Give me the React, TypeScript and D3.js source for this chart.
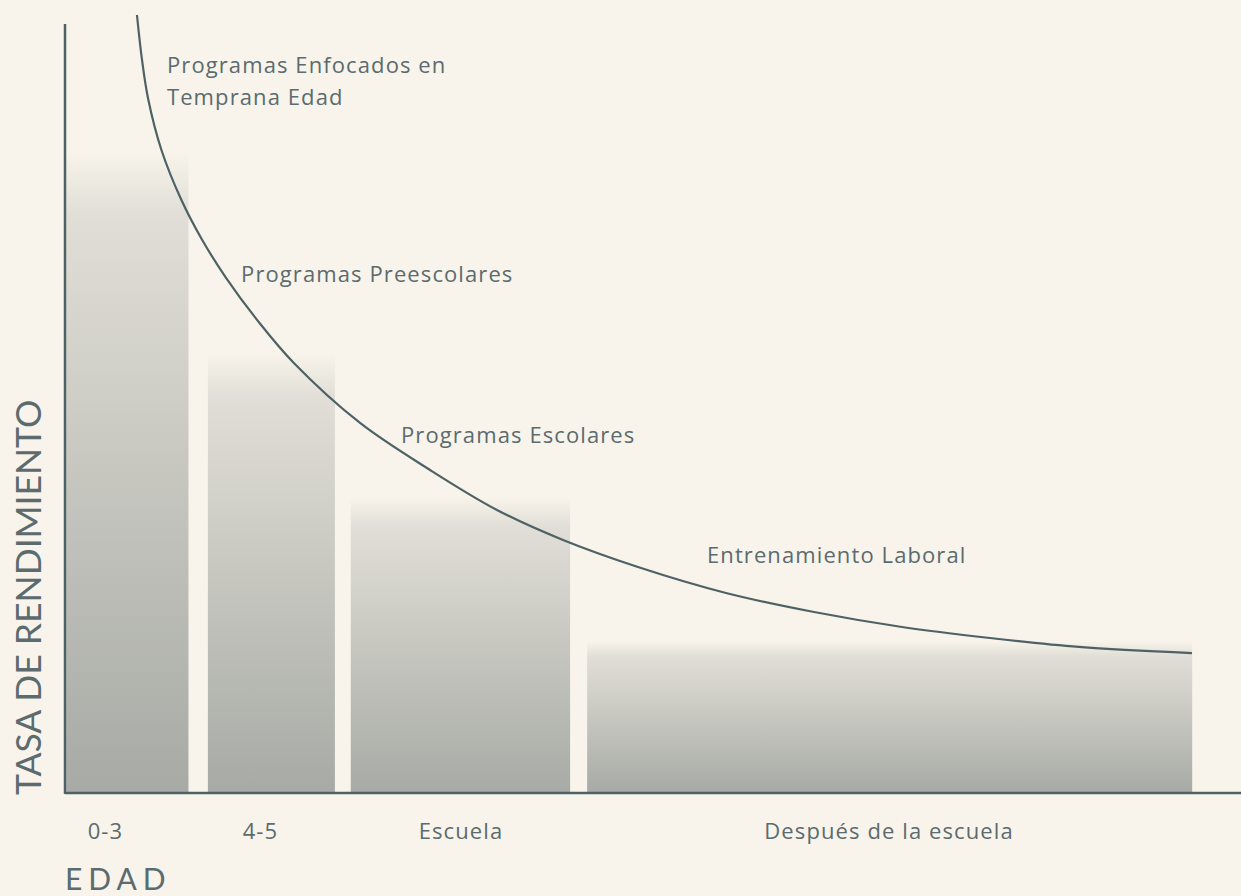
import React, { useRef, useEffect } from "react";
import * as d3 from "d3";

// age groups (bars), in the chart's own x units (0-100 across the axis)
const groups = ["0-3", "4-5", "Escuela", "Después de la escuela"];
const barStart = [0.1, 12.15, 24.3, 44.4];
const barEnd = [10.5, 22.95, 42.95, 95.85];
const barValue = [82.5, 56.5, 38.0, 19.5];
const tickCenter = [3.44, 16.62, 33.67, 70.07];

// return-rate curve
const curveX = [6.12, 6.55, 7.09, 8.2, 9.9, 11.67, 13.65, 16.54, 19.46, 25.09, 31.04, 36.73, 42.35, 48.72, 56.21, 63.69, 71.17, 78.66, 86.22, 95.83];
const curveY = [100, 94.22, 89.07, 82.65, 76.22, 71.08, 66.32, 60.41, 55.27, 47.56, 41.52, 36.38, 32.52, 29.05, 25.71, 23.26, 21.34, 19.92, 18.77, 17.99];

// program labels along the curve
const noteText = [["Programas Enfocados en", "Temprana Edad"], ["Programas Preescolares"], ["Programas Escolares"], ["Entrenamiento Laboral"]];
const noteX = [8.67, 14.97, 28.57, 54.59];
const noteY = [92.5, 65.7, 45.0, 29.6];

const W = 1241;
const H = 896;
const ink = "#4e6266";
const textCol = "#5b6b6e";
const labelFont = "'Open Sans', Lato, sans-serif";
const titleFont = "Lato, 'Open Sans', sans-serif";

const App = () => {
  const ref = useRef<SVGSVGElement>(null);

  useEffect(() => {
    if (!ref.current) return;
    const svg = d3.select(ref.current);
    svg.selectAll("*").remove();

    const x = d3.scaleLinear().domain([0, 100]).range([65, 1241]);
    const y = d3.scaleLinear().domain([0, 100]).range([793, 15]);

    svg.append("rect").attr("width", W).attr("height", H).attr("fill", "#f8f4eb");

    const grad = svg
      .append("defs")
      .append("linearGradient")
      .attr("id", "barFade")
      .attr("x1", 0)
      .attr("y1", 0)
      .attr("x2", 0)
      .attr("y2", 1);
    grad.append("stop").attr("offset", "0%").attr("stop-color", "#a3a6a1").attr("stop-opacity", 0);
    grad.append("stop").attr("offset", "10%").attr("stop-color", "#a3a6a1").attr("stop-opacity", 0.28);
    grad.append("stop").attr("offset", "100%").attr("stop-color", "#a3a6a1").attr("stop-opacity", 0.95);

    svg
      .append("g")
      .selectAll("rect")
      .data(groups)
      .join("rect")
      .attr("x", (_, i) => x(barStart[i]))
      .attr("width", (_, i) => x(barEnd[i]) - x(barStart[i]))
      .attr("y", (_, i) => y(barValue[i]))
      .attr("height", (_, i) => y(0) - y(barValue[i]))
      .attr("fill", "url(#barFade)");

    // axes
    svg.append("line").attr("x1", x(0)).attr("x2", x(0)).attr("y1", 24).attr("y2", y(0) + 1)
      .attr("stroke", ink).attr("stroke-width", 2.5);
    svg.append("line").attr("x1", x(0)).attr("x2", x(100)).attr("y1", y(0)).attr("y2", y(0))
      .attr("stroke", ink).attr("stroke-width", 2.5);

    const pts: [number, number][] = curveX.map((v, i) => [v, curveY[i]]);
    const line = d3
      .line<[number, number]>()
      .x((d) => x(d[0]))
      .y((d) => y(d[1]))
      .curve(d3.curveCatmullRom.alpha(0.5));
    svg.append("path").datum(pts).attr("d", line).attr("fill", "none")
      .attr("stroke", ink).attr("stroke-width", 2.2);

    // notes
    noteText.forEach((lines, i) => {
      const t = svg.append("text")
        .attr("x", x(noteX[i]))
        .attr("y", y(noteY[i]))
        .attr("fill", textCol)
        .attr("font-family", labelFont)
        .attr("font-size", 22)
        .attr("letter-spacing", 1.1);
      lines.forEach((s, j) => {
        t.append("tspan").attr("x", x(noteX[i])).attr("dy", j === 0 ? 0 : 32).text(s);
      });
    });

    // category labels
    svg.append("g")
      .selectAll("text")
      .data(groups)
      .join("text")
      .attr("x", (_, i) => x(tickCenter[i]))
      .attr("y", 839)
      .attr("text-anchor", "middle")
      .attr("fill", textCol)
      .attr("font-family", labelFont)
      .attr("font-size", 22)
      .attr("letter-spacing", 1.1)
      .text((d) => d);

    svg.append("text")
      .attr("x", 65)
      .attr("y", 890)
      .attr("fill", textCol)
      .attr("font-family", titleFont)
      .attr("font-size", 30)
      .attr("letter-spacing", 6)
      .text("EDAD");

    svg.append("text")
      .attr("transform", `translate(41,795) rotate(-90)`)
      .attr("fill", textCol)
      .attr("font-family", titleFont)
      .attr("font-size", 35.5)
      .text("TASA DE RENDIMIENTO");
  }, []);

  return (
    <div style={{ position: "absolute", left: 0, top: 0 }}>
      <svg ref={ref} width={W} height={H} style={{ display: "block" }} />
    </div>
  );
};

export default App;
